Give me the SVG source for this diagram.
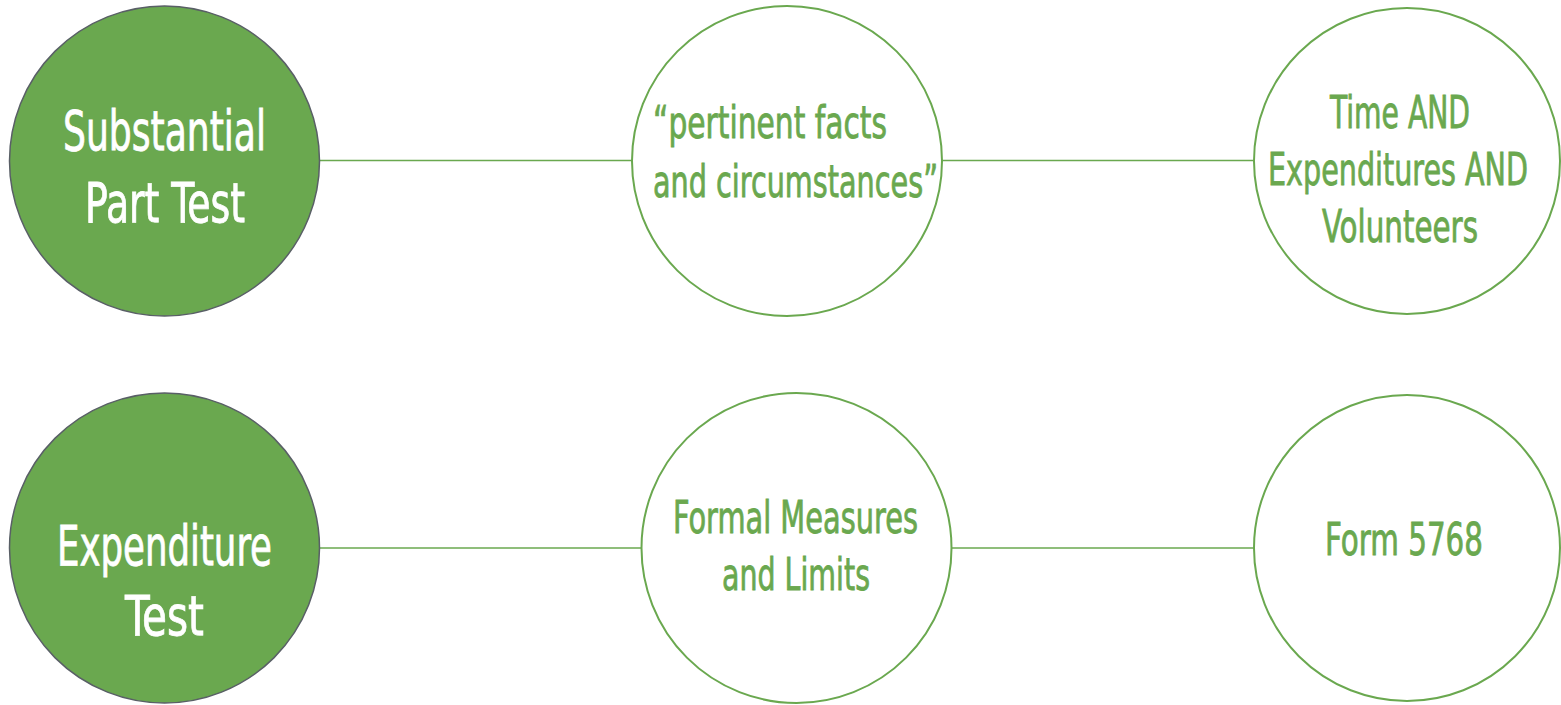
<svg xmlns="http://www.w3.org/2000/svg" width="1561" height="705" viewBox="0 0 1561 705">
<style>
.filled{fill:#6aa84f;stroke:#595f66;stroke-width:1.5}
.outline{fill:#ffffff;stroke:#6aa84f;stroke-width:2}
.conn{stroke:#6aa84f;stroke-width:1.6;fill:none}
text{font-family:"Liberation Sans Narrow","DejaVu Sans Condensed","Liberation Sans",sans-serif;}
.w{fill:#ffffff;stroke:#ffffff;stroke-width:0.8;font-size:56px}
.g{fill:#6aa84f;stroke:#6aa84f;stroke-width:0.8;font-size:44px}
</style>
<rect width="1561" height="705" fill="#ffffff"/>
<g id="connectors">
<line class="conn" x1="319" y1="160.5" x2="633" y2="160.5"/>
<line class="conn" x1="942" y1="160.5" x2="1255" y2="160.5"/>
<line class="conn" x1="319" y1="548" x2="642" y2="548"/>
<line class="conn" x1="951" y1="548" x2="1255" y2="548"/>
</g>
<g id="substantial">
<circle class="filled" cx="164.5" cy="161" r="155"/>
<text class="w" x="63" y="150" textLength="203" lengthAdjust="spacingAndGlyphs">Substantial</text>
<text class="w" x="85" y="222" textLength="160" lengthAdjust="spacingAndGlyphs">Part Test</text>
</g>
<g id="pertinent">
<circle class="outline" cx="787" cy="161" r="155"/>
<text class="g" x="653" y="138" textLength="234" lengthAdjust="spacingAndGlyphs">“pertinent facts</text>
<text class="g" x="653" y="197" textLength="285" lengthAdjust="spacingAndGlyphs">and circumstances”</text>
</g>
<g id="time">
<circle class="outline" cx="1407" cy="161" r="153"/>
<text class="g" x="1330" y="128" textLength="140" lengthAdjust="spacingAndGlyphs">Time AND</text>
<text class="g" x="1268" y="185" textLength="260" lengthAdjust="spacingAndGlyphs">Expenditures AND</text>
<text class="g" x="1322" y="242" textLength="156" lengthAdjust="spacingAndGlyphs">Volunteers</text>
</g>
<g id="expenditure">
<circle class="filled" cx="164.5" cy="548" r="155"/>
<text class="w" x="57" y="565" textLength="215" lengthAdjust="spacingAndGlyphs">Expenditure</text>
<text class="w" x="125" y="635" textLength="79" lengthAdjust="spacingAndGlyphs">Test</text>
</g>
<g id="formal">
<circle class="outline" cx="796.5" cy="548" r="155"/>
<text class="g" x="673" y="533" textLength="245" lengthAdjust="spacingAndGlyphs">Formal Measures</text>
<text class="g" x="722" y="590" textLength="148" lengthAdjust="spacingAndGlyphs">and Limits</text>
</g>
<g id="form5768">
<circle class="outline" cx="1407" cy="548" r="153"/>
<text class="g" x="1325" y="555" textLength="158" lengthAdjust="spacingAndGlyphs">Form 5768</text>
</g>
</svg>
